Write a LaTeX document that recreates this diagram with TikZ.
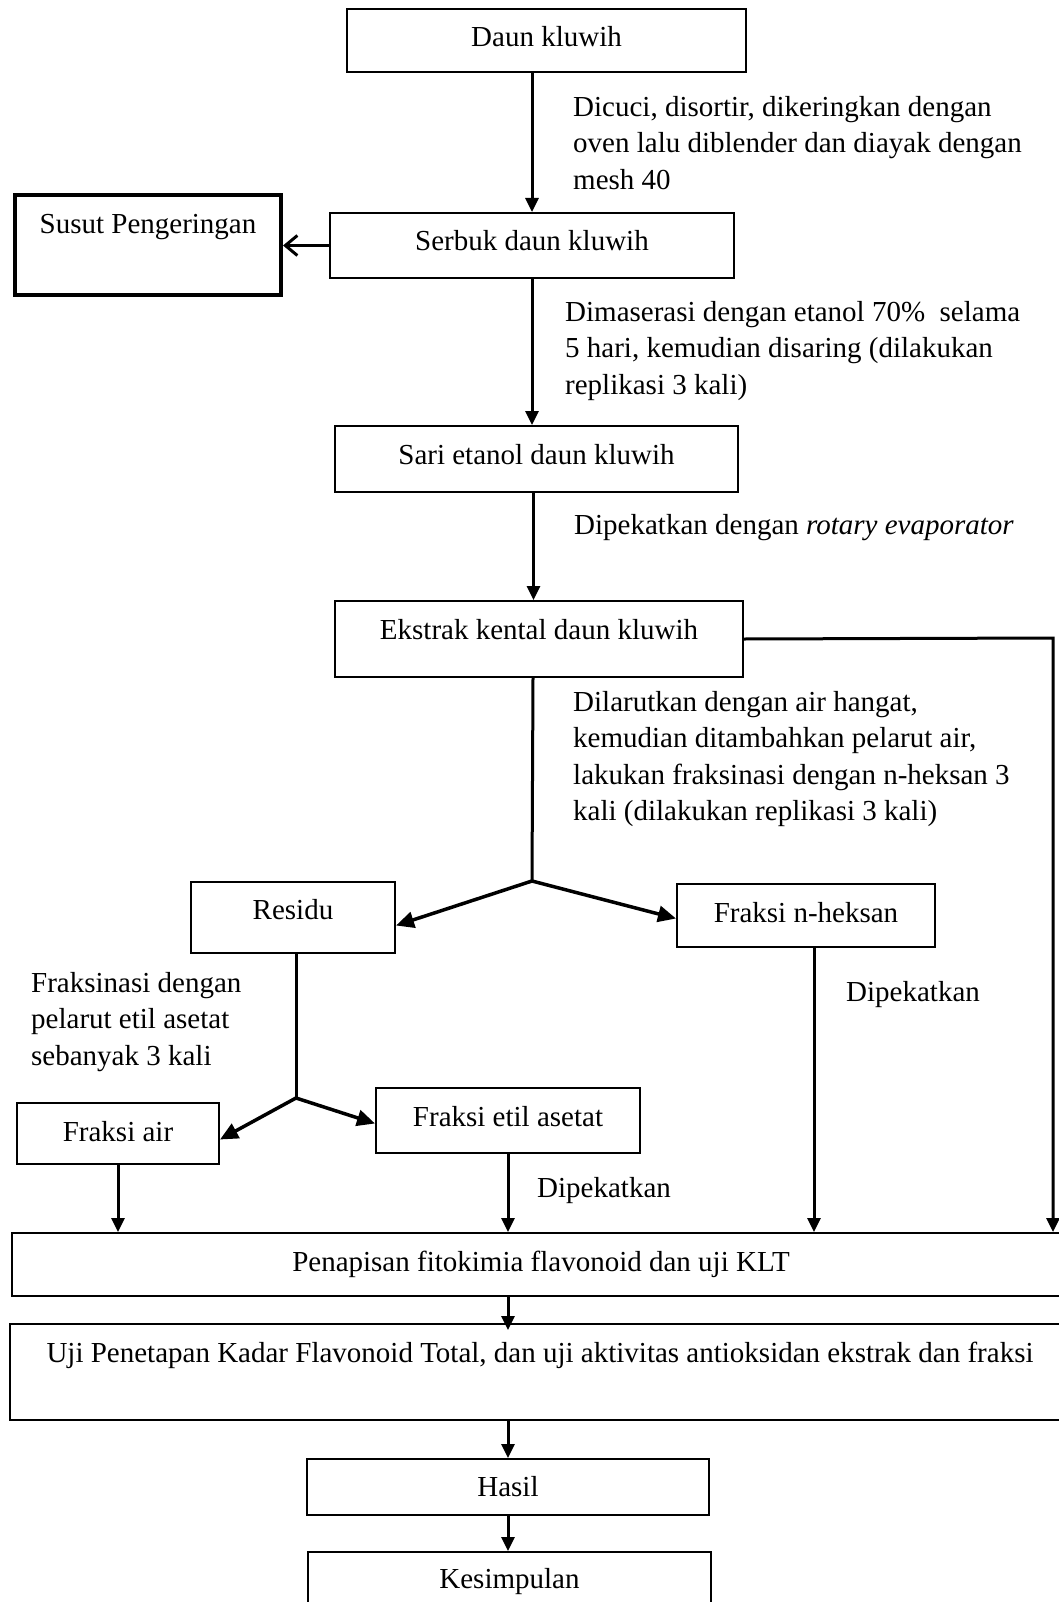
\documentclass[tikz,border=0pt]{standalone}
\usepackage{fontspec}
\setmainfont{Liberation Serif}
\usetikzlibrary{arrows.meta}

\begin{document}
\begin{tikzpicture}[auto,x=1pt,y=-1pt,font=\fontsize{29}{36.5}\selectfont,
                main/.style = {draw, line width=2pt, inner sep=0pt, text height=38pt, anchor=north west},
                note/.style = {inner sep=0pt, anchor=north west, align=left},
                flow/.style = {line width=3pt, -{Triangle[length=14pt,width=13pt]}},
                split/.style = {line width=3.5pt, -{Triangle[length=18pt,width=16pt]}}]
                \useasboundingbox (0,0) rectangle (1059,1602);
                % boxes
                \node[main, minimum width=399pt, text depth=25pt] (1) at (346,8) {Daun kluwih};
                \node[main, line width=4pt, minimum width=266pt, text height=39pt, text depth=61pt] (2) at (13,193) {Susut Pengeringan};
                \node[main, minimum width=404pt, text depth=27pt] (3) at (329,212) {Serbuk daun kluwih};
                \node[main, minimum width=403pt, text depth=28pt] (4) at (334,425) {Sari etanol daun kluwih};
                \node[main, minimum width=408pt, text depth=38pt] (5) at (334,600) {Ekstrak kental daun kluwih};
                \node[main, minimum width=204pt, text height=37pt, text depth=34pt] (6) at (190,881) {Residu};
                \node[main, minimum width=258pt, text height=38pt, text depth=25pt] (7) at (676,883) {Fraksi n-heksan};
                \node[main, minimum width=202pt, text depth=23pt] (8) at (16,1102) {Fraksi air};
                \node[main, minimum width=264pt, text depth=27pt] (9) at (375,1087) {Fraksi etil asetat};
                \node[main, minimum width=1058pt, text depth=25pt] (10) at (11,1232) {Penapisan fitokimia flavonoid dan uji KLT};
                \node[main, minimum width=1060pt, text height=38pt, text depth=58pt] (11) at (9,1323) {Uji Penetapan Kadar Flavonoid Total, dan uji aktivitas antioksidan ekstrak dan fraksi};
                \node[main, minimum width=402pt, text height=37pt, text depth=19pt] (12) at (306,1458) {Hasil};
                \node[main, minimum width=403pt, text height=36pt, text depth=44pt] (13) at (307,1551) {Kesimpulan};
                % notes
                \node[note] (t1) at (573,96) {Dicuci, disortir, dikeringkan dengan\\oven lalu diblender dan diayak dengan\\mesh 40};
                \node[note] (t2) at (565,301) {Dimaserasi dengan etanol 70\%\ \ selama\\5 hari, kemudian disaring (dilakukan\\replikasi 3 kali)};
                \node[note] (t3) at (574,514) {Dipekatkan dengan \textit{rotary evaporator}};
                \node[note] (t4) at (573,691) {Dilarutkan dengan air hangat,\\kemudian ditambahkan pelarut air,\\lakukan fraksinasi dengan n-heksan 3\\kali (dilakukan replikasi 3 kali)};
                \node[note] (t5) at (846,981) {Dipekatkan};
                \node[note] (t6) at (31,972) {Fraksinasi dengan\\pelarut etil asetat\\sebanyak 3 kali};
                \node[note] (t7) at (537,1177) {Dipekatkan};
                \coordinate (c1) at (532,881);
                \coordinate (c2) at (296,1098);
                \coordinate (r) at (1053,638);
                % connectors
                \draw[line width=3pt, -{Straight Barb[length=12pt,width=20pt]}] (3.west) -- (2.east |- 3.west);
                \draw[line width=3pt] ([xshift=-6pt]5.south) -- (c1);
                \draw[line width=3pt] (6.south -| c2) -- (c2);
                \draw[flow] (5.east) -- (r) -- (r |- 10.north);
                \path[split]
                    (c1) edge ([yshift=-8pt]6.east)
                    (c1) edge ([yshift=-3pt]7.west)
                    (c2) edge ([yshift=-6pt]8.east)
                    (c2) edge ([yshift=-3pt]9.west);
                \path[flow]
                    (3.north |- 1.south) edge (3.north)
                    (3.south) edge (3.south |- 4.north)
                    ([xshift=-3pt]4.south) edge ([xshift=-3pt]4.south |- 5.north)
                    (8.south) edge (8.south |- 10.north)
                    (9.south) edge (9.south |- 10.north)
                    ([xshift=8pt]7.south) edge ([xshift=8pt]7.south |- 10.north)
                    (12.north |- 10.south) edge[shorten >=-7pt] (12.north |- 11.north)
                    (12.north |- 11.south) edge (12.north)
                    (12.south) edge (12.south |- 13.north);
            \end{tikzpicture}
\end{document}
